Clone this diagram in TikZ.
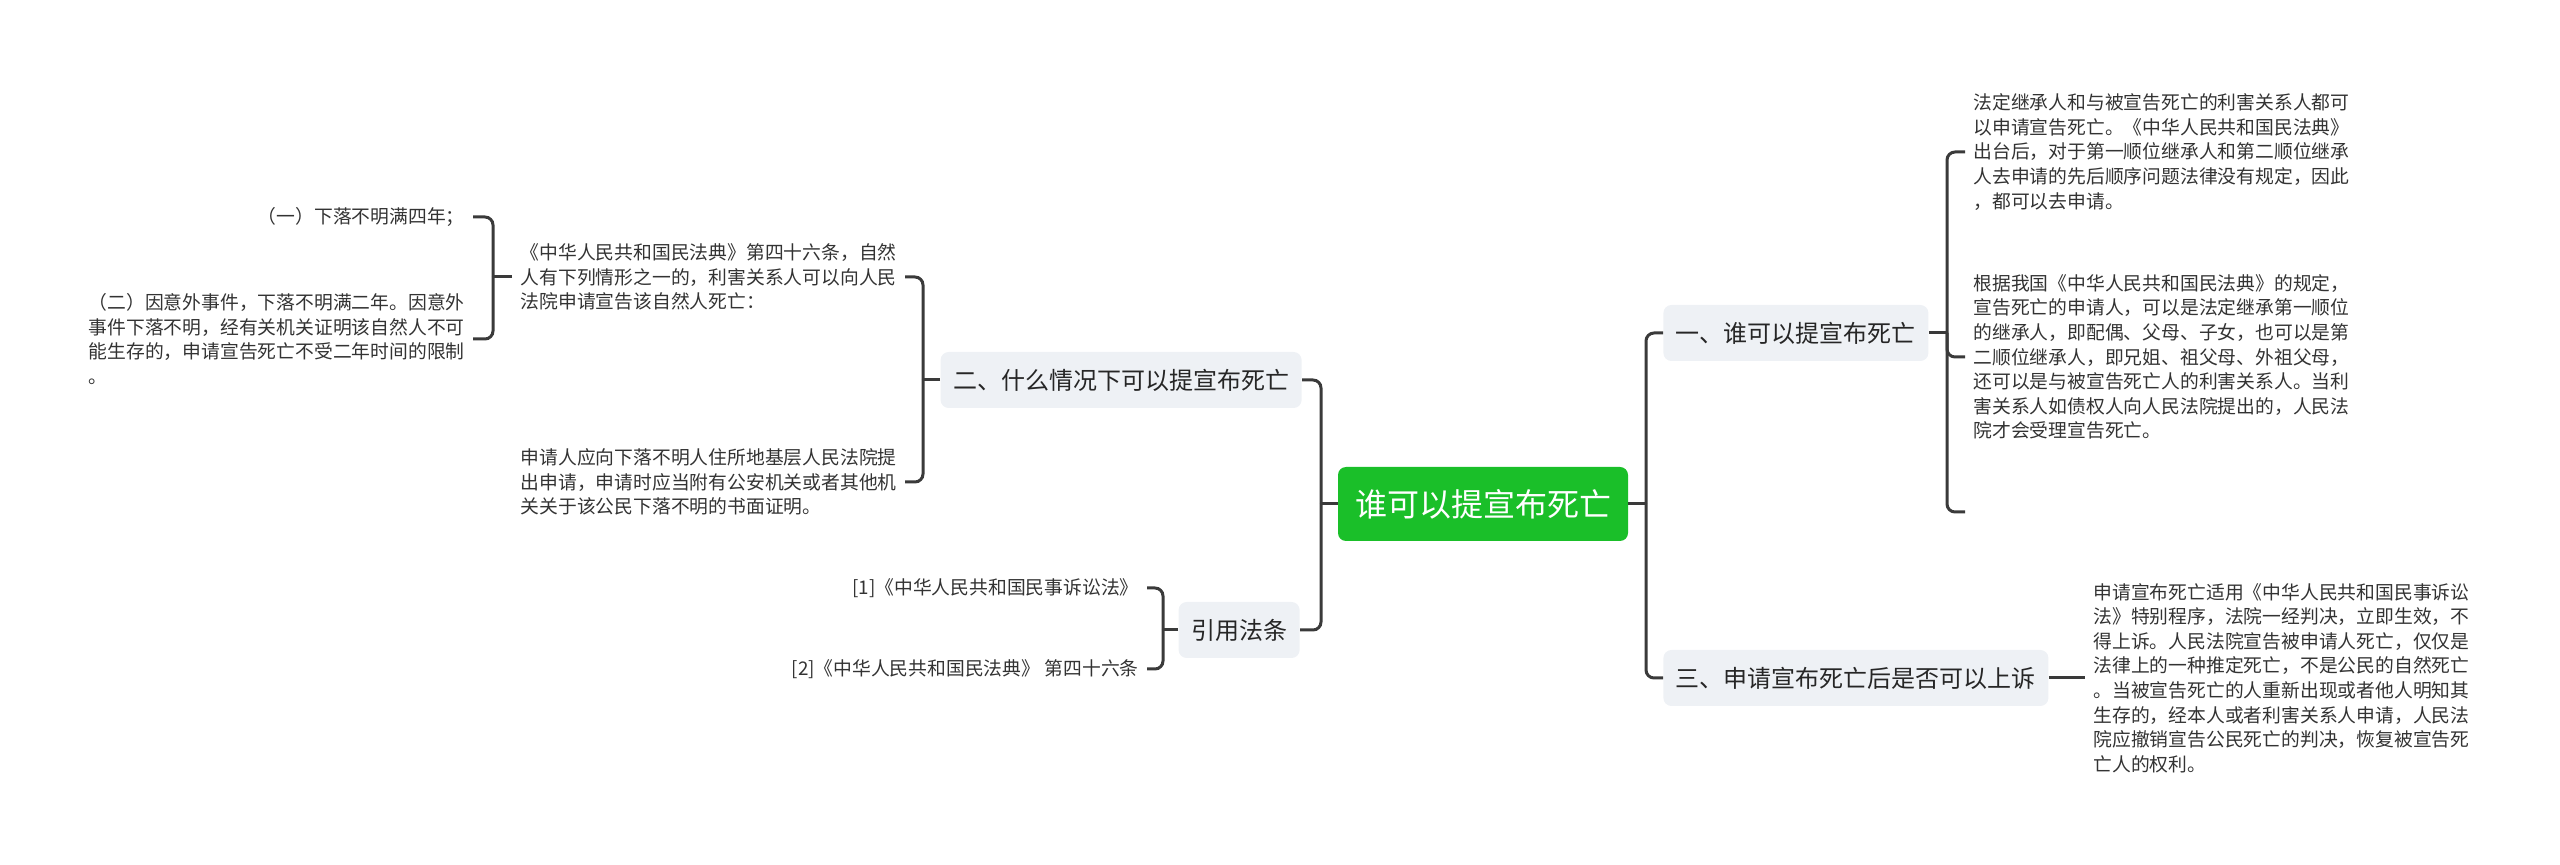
\documentclass[tikz,border=0pt]{standalone}
\usepackage{fontspec}
\newfontfamily\cjk{Noto Sans CJK SC}
\definecolor{linec}{HTML}{3A3A3A}
\definecolor{rootg}{HTML}{1ABF29}
\definecolor{topicbg}{HTML}{EEF1F5}
\definecolor{topictext}{HTML}{262626}
\definecolor{leaftext}{HTML}{333333}
\begin{document}
\begin{tikzpicture}[x=0.5pt,y=-0.5pt,
  conn/.style={draw=linec, line width=1.5pt, rounded corners=4pt},
  root/.style={fill=rootg, text=white, rounded corners=4pt, minimum width=145pt, minimum height=37pt, inner sep=0pt, font=\cjk\fontsize{16}{19}\selectfont},
  topic/.style={fill=topicbg, text=topictext, rounded corners=4pt, minimum height=28pt, inner xsep=6.25pt, inner ysep=0pt, font=\cjk\fontsize{12}{14}\selectfont},
  leaf/.style={text=leaftext, align=left, inner xsep=4pt, inner ysep=2pt, font=\cjk\fontsize{9.4}{12.3}\selectfont}]
\useasboundingbox (0,0) rectangle (2560,865);

\node[root] (c) at (1483,504) {谁可以提宣布死亡};
\node[topic, anchor=east] (n2) at (1302,380) {二、什么情况下可以提宣布死亡};
\node[topic, anchor=east] (nr) at (1300,630) {引用法条};
\node[topic, anchor=west] (n1) at (1663,333) {一、谁可以提宣布死亡};
\node[topic, anchor=west] (n3) at (1663,678) {三、申请宣布死亡后是否可以上诉};

\node[leaf, anchor=east] (tA) at (905,277) {《中华人民共和国民法典》第四十六条，自然\\人有下列情形之一的，利害关系人可以向人民\\法院申请宣告该自然人死亡：};
\node[leaf, anchor=east] (tB) at (905,482) {申请人应向下落不明人住所地基层人民法院提\\出申请，申请时应当附有公安机关或者其他机\\关关于该公民下落不明的书面证明。};
\node[leaf, anchor=east] (ta1) at (473,217) {（一）下落不明满四年；};
\node[leaf, anchor=east] (ta2) at (473,339) {（二）因意外事件，下落不明满二年。因意外\\事件下落不明，经有关机关证明该自然人不可\\能生存的，申请宣告死亡不受二年时间的限制\\。};
\node[leaf, anchor=east] (r1) at (1147,588) {[1]《中华人民共和国民事诉讼法》};
\node[leaf, anchor=east] (r2) at (1147,669) {[2]《中华人民共和国民法典》 第四十六条};
\node[leaf, anchor=west] (t1a) at (1965,152) {法定继承人和与被宣告死亡的利害关系人都可\\以申请宣告死亡。《中华人民共和国民法典》\\出台后，对于第一顺位继承人和第二顺位继承\\人去申请的先后顺序问题法律没有规定，因此\\，都可以去申请。};
\node[leaf, anchor=west] (t1b) at (1965,357) {根据我国《中华人民共和国民法典》的规定，\\宣告死亡的申请人，可以是法定继承第一顺位\\的继承人，即配偶、父母、子女，也可以是第\\二顺位继承人，即兄姐、祖父母、外祖父母，\\还可以是与被宣告死亡人的利害关系人。当利\\害关系人如债权人向人民法院提出的，人民法\\院才会受理宣告死亡。};
\coordinate (t1c) at (1965,512);
\node[leaf, anchor=west] (t3) at (2085,678) {申请宣布死亡适用《中华人民共和国民事诉讼\\法》特别程序，法院一经判决，立即生效，不\\得上诉。人民法院宣告被申请人死亡，仅仅是\\法律上的一种推定死亡，不是公民的自然死亡\\。当被宣告死亡的人重新出现或者他人明知其\\生存的，经本人或者利害关系人申请，人民法\\院应撤销宣告公民死亡的判决，恢复被宣告死\\亡人的权利。};

\coordinate (jl) at (1321,504);
\coordinate (jr) at (1646,504);
\coordinate (jB) at (923,380);
\coordinate (jA) at (493,277);
\coordinate (jR) at (1163,630);
\coordinate (j1) at (1947,333);

\draw[conn] (c.west) -- (jl);
\draw[conn] (jl) |- (n2.east);
\draw[conn] (jl) |- (nr.east);
\draw[conn] (c.east) -- (jr);
\draw[conn] (jr) |- (n1.west);
\draw[conn] (jr) |- (n3.west);
\draw[conn] (n2.west) -- (jB);
\draw[conn] (jB) |- (tA.east);
\draw[conn] (jB) |- (tB.east);
\draw[conn] (tA.west) -- (jA);
\draw[conn] (jA) |- (ta1.east);
\draw[conn] (jA) |- (ta2.east);
\draw[conn] (nr.west) -- (jR);
\draw[conn] (jR) |- (r1.east);
\draw[conn] (jR) |- (r2.east);
\draw[conn] (n1.east) -- (j1);
\draw[conn] (j1) |- (t1a.west);
\draw[conn] (j1) |- (t1b.west);
\draw[conn] (j1) |- (t1c);
\draw[conn] (n3.east) -- (t3.west);
\end{tikzpicture}
\end{document}
